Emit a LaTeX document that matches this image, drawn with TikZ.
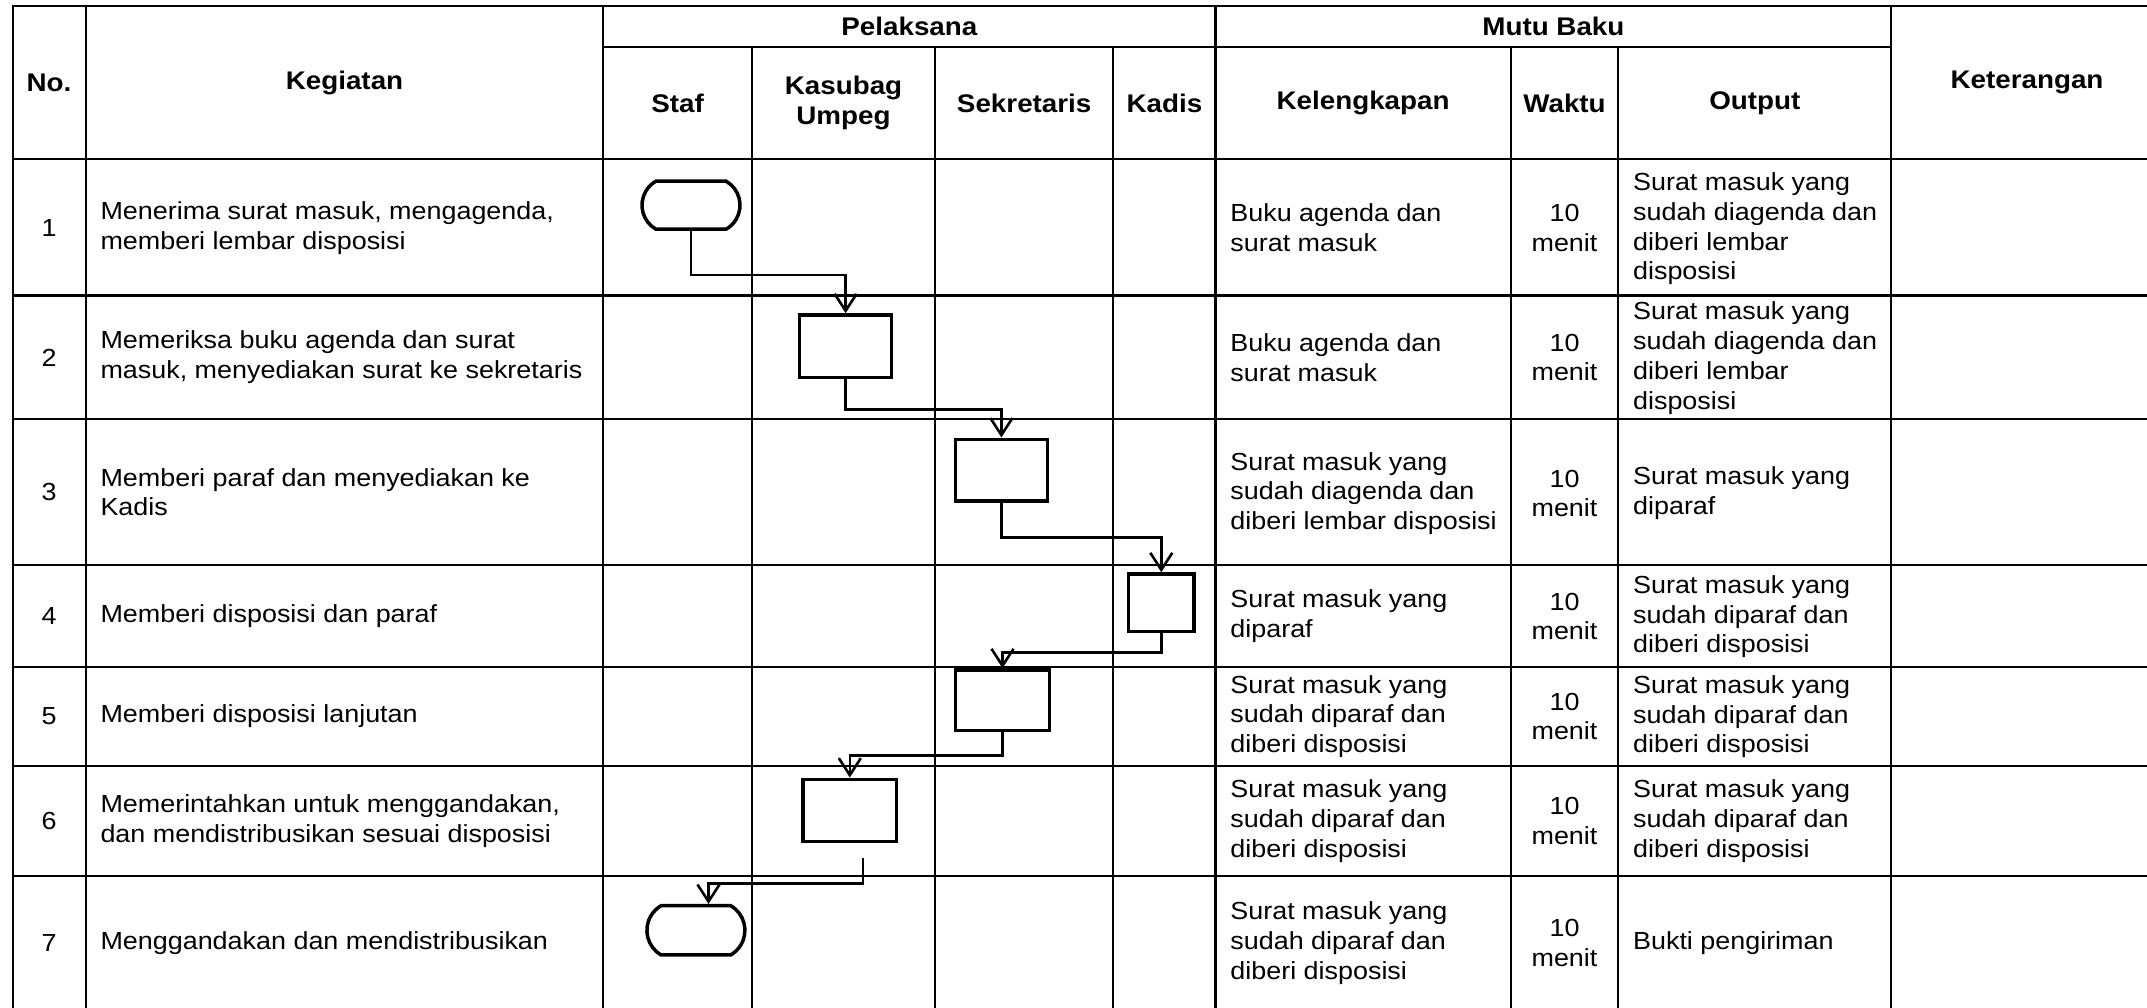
\documentclass[tikz,border=0pt]{standalone}
\usepackage{fontspec}
\setmainfont{Liberation Sans}[FakeStretch=1.09]
\usetikzlibrary{arrows.meta,shapes.misc}
\begin{document}
\begin{tikzpicture}[x=1pt,y=-1pt,
  grid/.style={line width=2.1pt, line cap=rect},
  txt/.style={inner sep=0pt, font=\fontsize{24.7}{29.8}\selectfont},
  lt/.style={txt, anchor=west, align=left},
  ct/.style={txt, align=center},
  hd/.style={inner sep=0pt, align=center, font=\fontsize{25.5}{29.8}\selectfont\bfseries},
  proc/.style={draw, line width=3.5pt, inner sep=0pt, fill=white},
  term/.style={draw, line width=3.5pt, fill=white, rounded rectangle, rounded rectangle arc length=120, minimum width=98pt, minimum height=48pt, inner sep=0pt},
  flow/.style={line width=2.6pt, -{Straight Barb[length=17pt,width=22pt,line width=2.6pt]}}
]
\fill[white] (0,0) rectangle (2147,1007);
\useasboundingbox (0,0) rectangle (2147,1007);

% table grid
\draw[grid] (12.6,6) -- (2147,6);
\foreach \yy in {158.7,295.5,419.3,565,666.7,766,876}
  \draw[grid] (12.6,\yy) -- (2147,\yy);
\draw[grid] (603.3,46.7) -- (1891.3,46.7);
\foreach \xx in {12.6,85.6,603.3,1215.5,1891.3}
  \draw[grid] (\xx,6) -- (\xx,1010);
\foreach \xx in {752,935.1,1113.4,1510.7,1618.2}
  \draw[grid] (\xx,46.7) -- (\xx,1010);

% headers
\node[hd] (hno) at (49,82.5) {No.};
\node[hd] (hkeg) at (344.5,82.5) {Kegiatan};
\node[hd] (hpel) at (909.4,26) {Pelaksana};
\node[hd] (hmutu) at (1553.4,26) {Mutu Baku};
\node[hd] (hket) at (2027,82.5) {Keterangan};
\node[hd] (hstaf) at (677.7,103) {Staf};
\node[hd] (hkas) at (843.5,103) {Kasubag\\Umpeg};
\node[hd] (hsek) at (1024.2,103) {Sekretaris};
\node[hd] (hkad) at (1164.5,103) {Kadis};
\node[hd] (hkel) at (1363.1,103) {Kelengkapan};
\node[hd] (hwak) at (1564.5,103) {Waktu};
\node[hd] (hout) at (1754.8,103) {Output};

% numbers
\node[ct] (no1) at (49,227.5) {1};
\node[ct] (no2) at (49,357.4) {2};
\node[ct] (no3) at (49,492.2) {3};
\node[ct] (no4) at (49,616) {4};
\node[ct] (no5) at (49,716.4) {5};
\node[ct] (no6) at (49,821) {6};
\node[ct] (no7) at (49,943) {7};

% kegiatan
\node[lt] (keg1) at (100.3,228) {Menerima surat masuk, mengagenda,\\memberi lembar disposisi};
\node[lt] (keg2) at (100.3,357.4) {Memeriksa buku agenda dan surat\\masuk, menyediakan surat ke sekretaris};
\node[lt] (keg3) at (100.3,492.2) {Memberi paraf dan menyediakan ke\\Kadis};
\node[lt] (keg4) at (100.3,616.5) {Memberi disposisi dan paraf};
\node[lt] (keg5) at (100.3,716.5) {Memberi disposisi lanjutan};
\node[lt] (keg6) at (100.3,821) {Memerintahkan untuk menggandakan,\\dan mendistribusikan sesuai disposisi};
\node[lt] (keg7) at (100.3,943) {Menggandakan dan mendistribusikan};

% kelengkapan
\node[lt] (kel1) at (1230.2,228) {Buku agenda dan\\surat masuk};
\node[lt] (kel2) at (1230.2,357.4) {Buku agenda dan\\surat masuk};
\node[lt] (kel3) at (1230.2,493.5) {Surat masuk yang\\sudah diagenda dan\\diberi lembar disposisi};
\node[lt] (kel4) at (1230.2,616.5) {Surat masuk yang\\diparaf};
\node[lt] (kel5) at (1230.2,716.5) {Surat masuk yang\\sudah diparaf dan\\diberi disposisi};
\node[lt] (kel6) at (1230.2,821) {Surat masuk yang\\sudah diparaf dan\\diberi disposisi};
\node[lt] (kel7) at (1230.2,943.3) {Surat masuk yang\\sudah diparaf dan\\diberi disposisi};

% waktu
\node[ct] (w1) at (1564.5,228) {10\\menit};
\node[ct] (w2) at (1564.5,357.4) {10\\menit};
\node[ct] (w3) at (1564.5,493.5) {10\\menit};
\node[ct] (w4) at (1564.5,616.5) {10\\menit};
\node[ct] (w5) at (1564.5,716.5) {10\\menit};
\node[ct] (w6) at (1564.5,821) {10\\menit};
\node[ct] (w7) at (1564.5,943) {10\\menit};

% output
\node[lt] (out1) at (1632.9,228.8) {Surat masuk yang\\sudah diagenda dan\\diberi lembar\\disposisi};
\node[lt] (out2) at (1632.9,358) {Surat masuk yang\\sudah diagenda dan\\diberi lembar\\disposisi};
\node[lt] (out3) at (1632.9,493) {Surat masuk yang\\diparaf};
\node[lt] (out4) at (1632.9,616.7) {Surat masuk yang\\sudah diparaf dan\\diberi disposisi};
\node[lt] (out5) at (1632.9,716.7) {Surat masuk yang\\sudah diparaf dan\\diberi disposisi};
\node[lt] (out6) at (1632.9,821) {Surat masuk yang\\sudah diparaf dan\\diberi disposisi};
\node[lt] (out7) at (1632.9,943.3) {Bukti pengiriman};

% flow shapes
\node[term] (t1) at (691,205.2) {};
\node[proc, minimum width=92pt, minimum height=62.7pt] (b2) at (845.6,346.3) {};
\node[proc, minimum width=92pt, minimum height=61.7pt] (b3) at (1001.4,470.1) {};
\node[proc, minimum width=65.3pt, minimum height=57.7pt] (b4) at (1161.3,602.8) {};
\node[proc, minimum width=94pt, minimum height=60.7pt] (b5) at (1002.5,700.3) {};
\node[proc, minimum width=93.3pt, minimum height=62.4pt] (b6) at (849.8,810.5) {};
\node[term, minimum height=49.3pt] (t7) at (695.9,930.3) {};
\coordinate (c6) at (862.9,858.3);

% connectors
\draw[flow] (t1.south) -- ++(0,44) -| (b2.north);
\draw[flow] (b2.south) -- ++(0,30) -| (b3.north);
\draw[flow] (b3.south) -- ++(0,35) -| (b4.north);
\draw[flow] (b4.south) -- ++(0,19.3) -| (b5.north);
\draw[flow] (b5.south) -- ++(0,23.3) -| (b6.north);
\draw[flow] (c6) -- ++(0,25) -| ([xshift=12.6pt]t7.north);
\end{tikzpicture}
\end{document}
